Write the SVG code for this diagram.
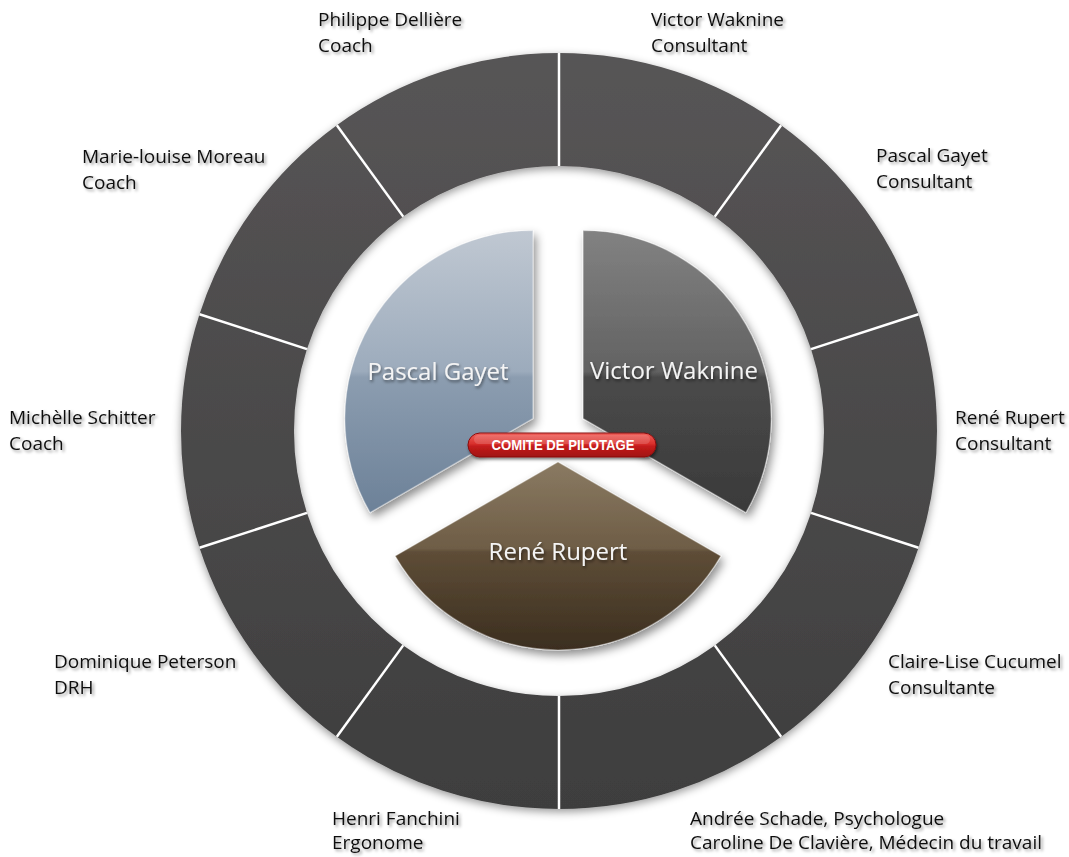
<svg xmlns="http://www.w3.org/2000/svg" width="1069" height="857" viewBox="0 0 1069 857">
<defs>
<style>
.lbl{font-family:"Open Sans","Noto Sans","DejaVu Sans",sans-serif;font-size:19px;fill:#111111;filter:url(#tsh)}
.core{font-family:"Open Sans","Noto Sans","DejaVu Sans",sans-serif;font-size:24px;fill:#f4f4f4;text-anchor:middle;filter:url(#csh)}
.seg{fill:url(#ringG)}
.div{stroke:#ffffff;stroke-width:2.5}
.sect{stroke:rgba(255,255,255,0.35);stroke-width:1.2;stroke-linejoin:round}
</style>
<linearGradient id="ringG" gradientUnits="userSpaceOnUse" x1="0" y1="53" x2="0" y2="809">
<stop offset="0" stop-color="#575556"/><stop offset="1" stop-color="#3e3e3e"/>
</linearGradient>
<linearGradient id="pasG" gradientUnits="userSpaceOnUse" x1="0" y1="230" x2="0" y2="513">
<stop offset="0" stop-color="#c0c8d2"/><stop offset="0.5" stop-color="#9cabbc"/><stop offset="0.52" stop-color="#8c9db0"/><stop offset="1" stop-color="#6c8198"/>
</linearGradient>
<linearGradient id="vicG" gradientUnits="userSpaceOnUse" x1="0" y1="230" x2="0" y2="513">
<stop offset="0" stop-color="#828282"/><stop offset="0.5" stop-color="#626262"/><stop offset="0.52" stop-color="#4a4a4a"/><stop offset="1" stop-color="#3a3a3a"/>
</linearGradient>
<linearGradient id="renG" gradientUnits="userSpaceOnUse" x1="0" y1="462" x2="0" y2="650">
<stop offset="0" stop-color="#8a7a62"/><stop offset="0.46" stop-color="#6e5d46"/><stop offset="0.48" stop-color="#5e4d37"/><stop offset="1" stop-color="#3b2e1f"/>
</linearGradient>
<linearGradient id="pillG" x1="0" y1="0" x2="0" y2="1">
<stop offset="0" stop-color="#f0605a"/><stop offset="0.45" stop-color="#d8302c"/><stop offset="0.55" stop-color="#c41d1b"/><stop offset="1" stop-color="#a01212"/>
</linearGradient>
<filter id="ringSh" x="-10%" y="-10%" width="120%" height="120%">
<feDropShadow dx="0" dy="3" stdDeviation="4" flood-color="#000" flood-opacity="0.4"/>
</filter>
<filter id="secSh" x="-20%" y="-20%" width="140%" height="140%">
<feDropShadow dx="3" dy="5" stdDeviation="5" flood-color="#000" flood-opacity="0.45"/>
</filter>
<filter id="tsh" x="-10%" y="-30%" width="120%" height="170%">
<feDropShadow dx="2" dy="2" stdDeviation="1.8" flood-color="#000" flood-opacity="0.4"/>
</filter>
<filter id="csh" x="-10%" y="-30%" width="120%" height="170%">
<feDropShadow dx="1" dy="2" stdDeviation="1.5" flood-color="#000" flood-opacity="0.5"/>
</filter>
</defs>
<rect width="1069" height="857" fill="#ffffff"/>

<g id="ring" filter="url(#ringSh)">
<g id="seg-victor"><path class="seg" d="M559,53 A378,378 0 0 1 781.18,125.19 L714.76,216.61 A265,265 0 0 0 559,166 Z"/></g>
<g id="seg-pascal"><path class="seg" d="M781.18,125.19 A378,378 0 0 1 918.5,314.19 L811.03,349.11 A265,265 0 0 0 714.76,216.61 Z"/></g>
<g id="seg-rene"><path class="seg" d="M918.5,314.19 A378,378 0 0 1 918.5,547.81 L811.03,512.89 A265,265 0 0 0 811.03,349.11 Z"/></g>
<g id="seg-claire"><path class="seg" d="M918.5,547.81 A378,378 0 0 1 781.18,736.81 L714.76,645.39 A265,265 0 0 0 811.03,512.89 Z"/></g>
<g id="seg-andree"><path class="seg" d="M781.18,736.81 A378,378 0 0 1 559,809 L559,696 A265,265 0 0 0 714.76,645.39 Z"/></g>
<g id="seg-henri"><path class="seg" d="M559,809 A378,378 0 0 1 336.82,736.81 L403.24,645.39 A265,265 0 0 0 559,696 Z"/></g>
<g id="seg-dominique"><path class="seg" d="M336.82,736.81 A378,378 0 0 1 199.5,547.81 L306.97,512.89 A265,265 0 0 0 403.24,645.39 Z"/></g>
<g id="seg-michelle"><path class="seg" d="M199.5,547.81 A378,378 0 0 1 199.5,314.19 L306.97,349.11 A265,265 0 0 0 306.97,512.89 Z"/></g>
<g id="seg-marie"><path class="seg" d="M199.5,314.19 A378,378 0 0 1 336.82,125.19 L403.24,216.61 A265,265 0 0 0 306.97,349.11 Z"/></g>
<g id="seg-philippe"><path class="seg" d="M336.82,125.19 A378,378 0 0 1 559,53 L559,166 A265,265 0 0 0 403.24,216.61 Z"/></g>
</g>

<g id="dividers">
<line class="div" x1="559" y1="53" x2="559" y2="166"/>
<line class="div" x1="781.18" y1="125.19" x2="714.76" y2="216.61"/>
<line class="div" x1="918.5" y1="314.19" x2="811.03" y2="349.11"/>
<line class="div" x1="918.5" y1="547.81" x2="811.03" y2="512.89"/>
<line class="div" x1="781.18" y1="736.81" x2="714.76" y2="645.39"/>
<line class="div" x1="559" y1="809" x2="559" y2="696"/>
<line class="div" x1="336.82" y1="736.81" x2="403.24" y2="645.39"/>
<line class="div" x1="199.5" y1="547.81" x2="306.97" y2="512.89"/>
<line class="div" x1="199.5" y1="314.19" x2="306.97" y2="349.11"/>
<line class="div" x1="336.82" y1="125.19" x2="403.24" y2="216.61"/>
</g>

<g id="labels">
<g id="lbl-philippe"><text class="lbl" x="318" y="26">Philippe Dellière</text><text class="lbl" x="318" y="52">Coach</text></g>
<g id="lbl-victor"><text class="lbl" x="651" y="26">Victor Waknine</text><text class="lbl" x="651" y="52">Consultant</text></g>
<g id="lbl-marie"><text class="lbl" x="82" y="163">Marie-louise Moreau</text><text class="lbl" x="82" y="189">Coach</text></g>
<g id="lbl-pascal"><text class="lbl" x="876" y="162">Pascal Gayet</text><text class="lbl" x="876" y="188">Consultant</text></g>
<g id="lbl-michelle"><text class="lbl" x="9" y="424">Michèlle Schitter</text><text class="lbl" x="9" y="450">Coach</text></g>
<g id="lbl-rene"><text class="lbl" x="955" y="424">René Rupert</text><text class="lbl" x="955" y="450">Consultant</text></g>
<g id="lbl-dominique"><text class="lbl" x="54" y="668">Dominique Peterson</text><text class="lbl" x="54" y="694">DRH</text></g>
<g id="lbl-claire"><text class="lbl" x="888" y="668">Claire-Lise Cucumel</text><text class="lbl" x="888" y="694">Consultante</text></g>
<g id="lbl-henri"><text class="lbl" x="332" y="825">Henri Fanchini</text><text class="lbl" x="332" y="849">Ergonome</text></g>
<g id="lbl-andree"><text class="lbl" x="690" y="825">Andrée Schade, Psychologue</text><text class="lbl" x="690" y="849">Caroline De Clavière, Médecin du travail</text></g>
</g>

<g id="core-pascal">
<path class="sect" filter="url(#secSh)" fill="url(#pasG)" d="M532.9,418.5 L532.9,230.5 A188,188 0 0 0 370.1,512.5 Z"/>
<text class="core" x="438" y="380">Pascal Gayet</text>
</g>
<g id="core-victor">
<path class="sect" filter="url(#secSh)" fill="url(#vicG)" d="M583.1,418.5 L583.1,230.5 A188,188 0 0 1 745.9,512.5 Z"/>
<text class="core" x="674" y="379">Victor Waknine</text>
</g>
<g id="core-rene">
<path class="sect" filter="url(#secSh)" fill="url(#renG)" d="M558,462 L720.8,556 A188,188 0 0 1 395.2,556 Z"/>
<text class="core" x="558" y="560">René Rupert</text>
</g>

<g id="comite">
<rect x="468" y="433" width="188" height="24" rx="12" fill="url(#pillG)" stroke="#8a1010" stroke-width="1" filter="url(#csh)"/>
<rect x="474" y="435" width="176" height="9" rx="4.5" fill="#ffffff" opacity="0.15"/>
<text x="563" y="450" font-family="'Liberation Sans Narrow','Liberation Sans',Arial,sans-serif" font-weight="bold" font-size="14" fill="#ffffff" text-anchor="middle" textLength="143" lengthAdjust="spacingAndGlyphs">COMITE DE PILOTAGE</text>
</g>
</svg>
